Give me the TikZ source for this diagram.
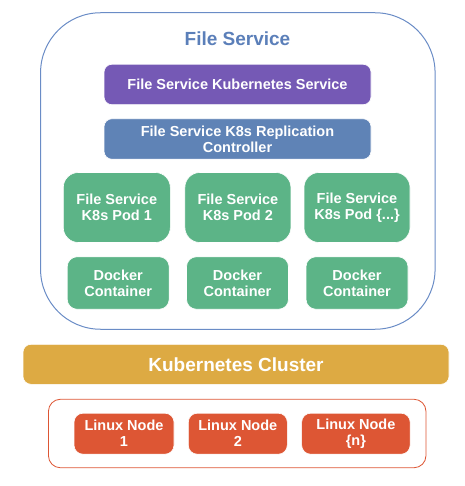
\documentclass[tikz,border=0pt]{standalone}
\usepackage{fontspec}
\setmainfont{Liberation Sans}
\definecolor{fsborder}{HTML}{6A8CC6}
\definecolor{fstitle}{HTML}{5B7FB9}
\definecolor{kpurple}{HTML}{7559B5}
\definecolor{kblue}{HTML}{5F83B6}
\definecolor{kgreen}{HTML}{5CB487}
\definecolor{kgold}{HTML}{DDAA43}
\definecolor{kred}{HTML}{DD5634}
\tikzset{
  box/.style={draw=white, line width=0.6pt, text=white, font=\fontsize{14.5}{16}\selectfont\bfseries, align=center, inner sep=0pt, anchor=center},
  podbox/.style={box, fill=kgreen, rounded corners=15pt, minimum width=107pt, minimum height=70pt},
  dockbox/.style={box, fill=kgreen, rounded corners=10pt, minimum width=102pt, minimum height=52.5pt},
  linuxbox/.style={box, fill=kred, rounded corners=9pt, minimum height=41pt},
}
\begin{document}
\begin{tikzpicture}[x=1pt,y=-1pt]
\useasboundingbox (0,0) rectangle (464,486);
% outer File Service container
\node[draw=fsborder, line width=1pt, rounded corners=60pt, minimum width=394.5pt, minimum height=316.5pt, inner sep=0pt, anchor=center] (fs) at (237.8,171) {};
\node[text=fstitle, font=\fontsize{19}{22}\selectfont\bfseries, anchor=center] (fstitle) at (237.5,39) {File Service};
\node[box, fill=kpurple, rounded corners=8pt, minimum width=267pt, minimum height=40.5pt] (svc) at (237.5,84.5) {File Service Kubernetes Service};
\node[box, fill=kblue, rounded corners=8pt, minimum width=267pt, minimum height=40.5pt] (rc) at (237.5,139) {File Service K8s Replication\\Controller};
\node[podbox] (pod1) at (116.8,207.5) {File Service\\K8s Pod 1};
\node[podbox, minimum width=106pt] (pod2) at (237.9,207.5) {File Service\\K8s Pod 2};
\node[podbox, minimum width=106pt] (pod3) at (357,207.5) {File Service\\K8s Pod \{...\}};
\node[dockbox] (dock1) at (118.2,283) {Docker\\Container};
\node[dockbox] (dock2) at (237.5,283) {Docker\\Container};
\node[dockbox] (dock3) at (357,283) {Docker\\Container};
% Kubernetes cluster
\node[box, fill=kgold, rounded corners=8pt, minimum width=426pt, minimum height=40pt, font=\fontsize{19}{22}\selectfont\bfseries] (k8s) at (236,364.3) {Kubernetes Cluster};
% Linux nodes container
\node[draw=kred, line width=0.8pt, rounded corners=12pt, minimum width=377.5pt, minimum height=68.5pt, inner sep=0pt, anchor=center] (linux) at (237.2,433.5) {};
\node[linuxbox, minimum width=100pt] (ln1) at (124,433.7) {Linux Node\\1};
\node[linuxbox, minimum width=99pt] (ln2) at (237.8,433.7) {Linux Node\\2};
\node[linuxbox, minimum width=108.5pt] (ln3) at (355.9,433.7) {Linux Node\\\{n\}};
\end{tikzpicture}
\end{document}
